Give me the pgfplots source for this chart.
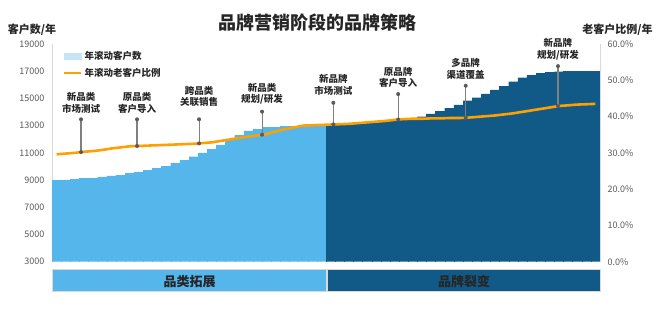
\documentclass[border=0pt]{standalone}
\usepackage{pgfplots}
\pgfplotsset{compat=1.18}
\usepackage{fontspec}
\setmainfont{Noto Sans CJK SC}
\definecolor{lightbar}{RGB}{85,182,236}
\definecolor{darkbar}{RGB}{17,90,135}
\definecolor{legblue}{RGB}{198,230,248}
\definecolor{lineorange}{RGB}{255,160,0}
\definecolor{tickgray}{RGB}{89,89,89}
\definecolor{axisgray}{RGB}{217,217,217}
\definecolor{anngray}{RGB}{128,128,128}
\definecolor{dotgray}{RGB}{90,90,90}
\definecolor{txt}{RGB}{38,38,38}
\newcommand{\ann}[5]{%
  \draw[anngray, line width=1.1pt] (axis cs:#1,#2) -- (axis cs:#1,#3);
  \fill[dotgray] (axis cs:#1,#2) circle (2pt);
  \fill[dotgray] (axis cs:#1,#3) circle (2pt);
  \node[align=center, inner sep=0pt, font=\bfseries\fontsize{9.5}{11.5}\selectfont, text=txt]
    at (axis cs:#1,#4) {#5};
}
\begin{document}
\begin{tikzpicture}
\path[use as bounding box] (0,0) rectangle (660pt,-319pt);
% ---------- left axis: bars ----------
\begin{axis}[
  at={(52pt,-261.7pt)}, anchor=south west,
  width=548pt, height=217.7pt, scale only axis,
  xmin=0.5, xmax=60.5, ymin=3000, ymax=19000,
  axis x line=none,
  axis y line*=left,
  axis line style={draw=axisgray, line width=0.9pt, -},
  ytick={3000,5000,...,19000},
  scaled y ticks=false,
  major tick length=0pt,
  yticklabel style={font=\fontsize{9}{10}\selectfont, text=tickgray, xshift=-4pt},
  /pgf/number format/assume math mode=true,
  /pgf/number format/1000 sep={},
  ybar, bar width=1,
]
\addplot[fill=lightbar, draw=lightbar, line width=0.3pt, bar shift=0pt] coordinates {
(1,8970) (2,9000) (3,9060) (4,9120) (5,9150) (6,9230) (7,9300) (8,9370) (9,9480) (10,9590)
(11,9700) (12,9850) (13,10030) (14,10250) (15,10470) (16,10720) (17,10990) (18,11280) (19,11580) (20,11940)
(21,12280) (22,12610) (23,12750) (24,12860) (25,12900) (26,12940) (27,12970) (28,13010) (29,13050) (30,13050)
};
\addplot[fill=darkbar, draw=darkbar, line width=0.3pt, bar shift=0pt] coordinates {
(31,13080) (32,13120) (33,13160) (34,13200) (35,13250) (36,13290) (37,13330) (38,13370) (39,13410) (40,13450)
(41,13660) (42,13860) (43,14030) (44,14280) (45,14520) (46,14830) (47,15050) (48,15330) (49,15620) (50,15910)
(51,16230) (52,16520) (53,16720) (54,16850) (55,16920) (56,16965) (57,16995) (58,17015) (59,17015) (60,17015)
};
\end{axis}
% ---------- right axis: line ----------
\begin{axis}[
  at={(52pt,-261.7pt)}, anchor=south west,
  width=548pt, height=217.7pt, scale only axis,
  xmin=0.5, xmax=60.5, ymin=0, ymax=60,
  axis x line=none,
  axis y line*=right,
  axis line style={draw=axisgray, line width=0.9pt, -},
  ytick={0,10,...,60},
  major tick length=0pt,
  yticklabel={\pgfmathprintnumber[fixed,fixed zerofill,precision=1]{\tick}\%},
  yticklabel style={font=\fontsize{9}{10}\selectfont, text=tickgray, xshift=4pt},
  /pgf/number format/assume math mode=true,
  clip=false,
  legend style={at={(0.018,0.98)}, anchor=north west, draw=none, fill=none,
    font=\bfseries\fontsize{9.5}{11}\selectfont, text=txt, row sep=3pt,
    inner sep=1pt},
  legend cell align=left,
]
\addlegendimage{area legend, fill=legblue, draw=legblue}
\addlegendentry{年滚动客户数}
\addlegendimage{line legend, lineorange, line width=2.6pt}
\addlegendentry{年滚动老客户比例}
\addplot[lineorange, line width=2.6pt, smooth, tension=0.3] coordinates {
(1,29.6) (2,29.8) (3,30.0) (4,30.3) (5,30.5) (6,30.8) (7,31.2) (8,31.5) (9,31.8) (10,31.9)
(11,32.0) (12,32.1) (13,32.2) (14,32.3) (15,32.4) (16,32.5) (17,32.7) (18,32.9) (19,33.3) (20,33.7)
(21,34.1) (22,34.5) (23,34.8) (24,35.2) (25,35.9) (26,36.5) (27,37.0) (28,37.5) (29,37.6) (30,37.7)
(31,37.8) (32,37.9) (33,38.0) (34,38.2) (35,38.4) (36,38.6) (37,38.8) (38,39.1) (39,39.3) (40,39.4)
(41,39.4) (42,39.5) (43,39.5) (44,39.6) (45,39.6) (46,39.7) (47,39.9) (48,40.1) (49,40.3) (50,40.6)
(51,40.9) (52,41.3) (53,41.7) (54,42.1) (55,42.5) (56,42.9) (57,43.1) (58,43.3) (59,43.4) (60,43.5)
};
\ann{3.68}{30.2}{39.25}{43.8}{新品类\\市场测试}
\ann{9.81}{31.9}{39.25}{43.8}{原品类\\客户导入}
\ann{16.6}{32.6}{39.25}{45.5}{跨品类\\关联销售}
\ann{23.5}{35.0}{41.35}{46.3}{新品类\\规划/研发}
\ann{31.3}{37.85}{43.8}{48.7}{新品牌\\市场测试}
\ann{38.4}{39.2}{46.2}{50.8}{原品牌\\客户导入}
\ann{45.8}{39.65}{48.5}{53.2}{多品牌\\渠道覆盖}
\ann{55.9}{42.9}{53.9}{58.6}{新品牌\\规划/研发}
\end{axis}
% ---------- bottom stage bands ----------
\fill[lightbar] (52.3pt,-269.3pt) rectangle (326.7pt,-291.7pt);
\fill[darkbar] (327.6pt,-269.3pt) rectangle (600.7pt,-291.7pt);
\draw[axisgray, line width=0.6pt] (52.3pt,-269.3pt) rectangle (326.7pt,-291.7pt);
\draw[axisgray, line width=0.6pt] (327.6pt,-269.3pt) rectangle (600.7pt,-291.7pt);
\node[font=\bfseries\fontsize{13}{14}\selectfont, text=txt] at (189.5pt,-281.5pt) {品类拓展};
\node[font=\bfseries\fontsize{13}{14}\selectfont, text=txt] at (464pt,-281.5pt) {品牌裂变};
% ---------- titles ----------
\node[font=\bfseries\fontsize{18}{20}\selectfont, text=txt] at (317pt,-22.5pt) {品牌营销阶段的品牌策略};
\node[font=\bfseries\fontsize{11}{12}\selectfont, text=txt] at (32pt,-30pt) {客户数/年};
\node[font=\bfseries\fontsize{11}{12}\selectfont, text=txt] at (617.5pt,-30pt) {老客户比例/年};
\end{tikzpicture}
\end{document}
